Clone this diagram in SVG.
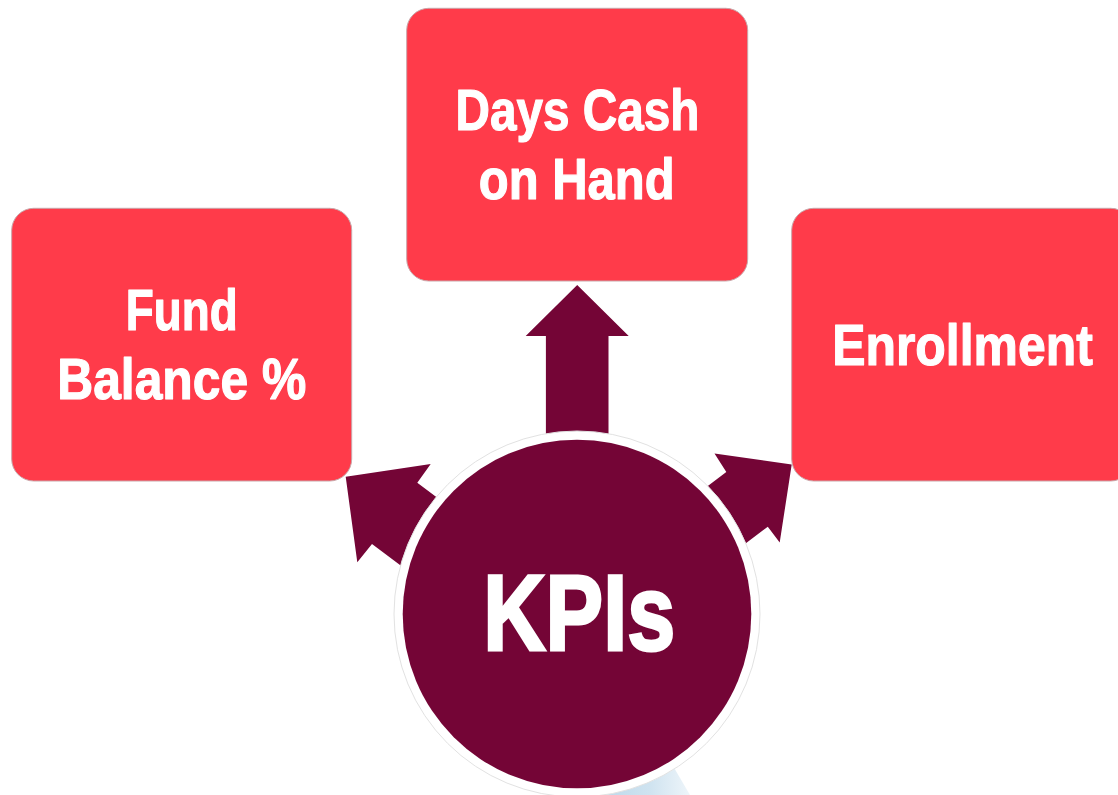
<svg xmlns="http://www.w3.org/2000/svg" width="1118" height="795" viewBox="0 0 1118 795">
  <style>
    .box { fill: #FF3B4A; stroke: #c9a7aa; stroke-width: 1; }
    .arrow { fill: #740536; }
    .label { fill: #ffffff; stroke: #ffffff; stroke-width: 1.2; stroke-linejoin: round; font-family: "Liberation Sans Narrow", "Liberation Sans", Arial, sans-serif; font-weight: bold; font-size: 58px; text-anchor: middle; }
    .hub-label { fill: #ffffff; stroke: #ffffff; stroke-width: 3; stroke-linejoin: miter; font-family: "Liberation Sans Narrow", "Liberation Sans", Arial, sans-serif; font-weight: bold; font-size: 108px; text-anchor: middle; }
  </style>
  <defs>
    <linearGradient id="pale" x1="0" y1="0" x2="1" y2="0">
      <stop offset="0" stop-color="#bcd8ea"/>
      <stop offset="0.55" stop-color="#cfe3f0"/>
      <stop offset="1" stop-color="#eef5fa"/>
    </linearGradient>
  </defs>
  <rect width="1118" height="795" fill="#ffffff"/>

  <!-- pale shape partly tucked behind the hub -->
  <polygon points="600,795 690,795 673,766 600,766" fill="url(#pale)"/>

  <g id="connectors">
    <polygon class="arrow" points="577.2,285 628.7,336 608.5,336 608.5,520 545.9,520 545.9,336 525.7,336"/>
    <polygon class="arrow" points="345.7,476.7 430.7,464 417.3,482.7 537.3,572.7 492,634 372,544 357.3,562.3"/>
    <polygon class="arrow" points="791.7,464.5 714.5,453.5 726.3,472 606.7,562.6 648.2,617.3 767.8,526.7 779.7,542.5"/>
  </g>

  <g id="hub">
    <circle cx="577" cy="614" r="183" fill="#ffffff" stroke="#e2e2e2" stroke-width="1"/>
    <circle cx="577" cy="614" r="174.3" fill="#740536"/>
    <text class="hub-label" x="579.2" y="649.5" textLength="192" lengthAdjust="spacingAndGlyphs">KPIs</text>
  </g>

  <g id="fund-balance">
    <rect class="box" x="11.7" y="208.3" width="340" height="272.7" rx="22"/>
    <text class="label" x="181.7" y="329.5" textLength="112" lengthAdjust="spacingAndGlyphs">Fund</text>
    <text class="label" x="181.7" y="398.5" textLength="249" lengthAdjust="spacingAndGlyphs">Balance %</text>
  </g>

  <g id="days-cash">
    <rect class="box" x="406.7" y="8.3" width="341" height="272.7" rx="22"/>
    <text class="label" x="577.5" y="129.5" textLength="244" lengthAdjust="spacingAndGlyphs">Days Cash</text>
    <text class="label" x="576.7" y="198.5" textLength="195.7" lengthAdjust="spacingAndGlyphs">on Hand</text>
  </g>

  <g id="enrollment">
    <rect class="box" x="791.7" y="208.3" width="341" height="272.7" rx="22"/>
    <text class="label" x="962.5" y="364.5" textLength="260.7" lengthAdjust="spacingAndGlyphs">Enrollment</text>
  </g>
</svg>
